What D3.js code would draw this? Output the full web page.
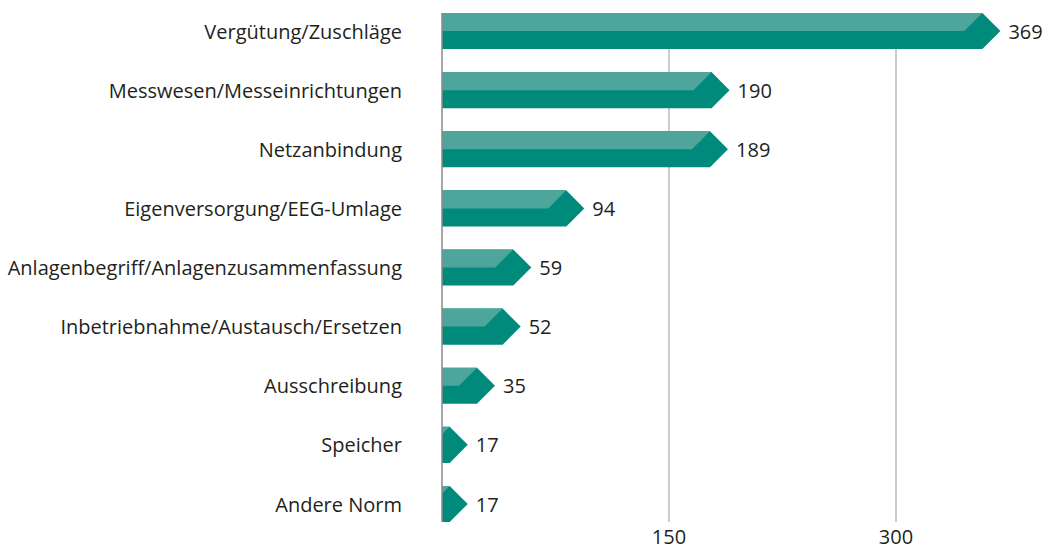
<!DOCTYPE html>
<html lang="de">
<head>
  <meta charset="UTF-8">
  <title>Anfragen nach Themen</title>
  <script src="https://d3js.org/d3.v7.min.js"></script>
  <style>
    body {
      margin: 0;
      background: #fff;
      font-family: "Open Sans", sans-serif;
    }
    svg { display: block; }
    .label, .value, .tick-label {
      fill: #231f20;
      font-size: 20px;
    }
  </style>
</head>
<body>
  <svg width="1047" height="550"></svg>
  <script>
  // Data
  const categories = [
    "Vergütung/Zuschläge",
    "Messwesen/Messeinrichtungen",
    "Netzanbindung",
    "Eigenversorgung/EEG-Umlage",
    "Anlagenbegriff/Anlagenzusammenfassung",
    "Inbetriebnahme/Austausch/Ersetzen",
    "Ausschreibung",
    "Speicher",
    "Andere Norm"
  ];
  const values = [369, 190, 189, 94, 59, 52, 35, 17, 17];
  const ticks = [150, 300];

  const width = 1047, height = 550;
  const svg = d3.select("svg");

  const x = d3.scaleLinear().domain([0, 300]).range([442, 896]);
  const y = d3.scaleBand().domain(categories).range([13, 522])
              .paddingInner(0.39).paddingOuter(0);

  const h = y.bandwidth();
  const half = h / 2;
  const x0 = x(0);

  // clip so the light bevel never spills left of the axis
  svg.append("defs").append("clipPath").attr("id", "plot")
     .append("rect").attr("x", x0).attr("y", 0).attr("width", width - x0).attr("height", height);

  // gridlines (under the bars)
  svg.selectAll("line.grid")
     .data(ticks)
     .enter().append("line")
     .attr("class", "grid")
     .attr("x1", d => x(d)).attr("x2", d => x(d))
     .attr("y1", 13).attr("y2", 522)
     .attr("stroke", "#9a9a9a")
     .attr("stroke-width", 1);

  const rows = categories.map((c, i) => ({ cat: c, value: values[i] }));

  const g = svg.append("g").attr("clip-path", "url(#plot)");

  // dark arrow body; the tip sits at the value
  g.selectAll("path.dark")
   .data(rows)
   .enter().append("path")
   .attr("class", "dark")
   .attr("fill", "#008a7c")
   .attr("d", d => {
     const top = y(d.cat), mid = top + half, bot = top + h;
     const tip = x(d.value), re = tip - half;
     return `M${x0},${top}L${re},${top}L${tip},${mid}L${re},${bot}L${x0},${bot}Z`;
   });

  // light upper bevel
  g.selectAll("path.light")
   .data(rows)
   .enter().append("path")
   .attr("class", "light")
   .attr("fill", "#4ea59b")
   .attr("d", d => {
     const top = y(d.cat), mid = top + half;
     const re = x(d.value) - half;
     return `M${x0 - h},${top}L${re},${top}L${re - half},${mid}L${x0 - h},${mid}Z`;
   });

  // value labels
  svg.selectAll("text.value")
     .data(rows)
     .enter().append("text")
     .attr("class", "value")
     .attr("x", d => x(d.value) + 8)
     .attr("y", d => y(d.cat) + half)
     .attr("dy", "0.38em")
     .text(d => d.value);

  // category labels
  svg.selectAll("text.label")
     .data(rows)
     .enter().append("text")
     .attr("class", "label")
     .attr("x", 402)
     .attr("y", d => y(d.cat) + half)
     .attr("dy", "0.38em")
     .attr("text-anchor", "end")
     .text(d => d.cat);

  // axis line on top of the bars
  svg.append("line")
     .attr("x1", x0).attr("x2", x0)
     .attr("y1", 13).attr("y2", 522)
     .attr("stroke", "#8a8a8a")
     .attr("stroke-width", 1.5);

  // tick labels
  svg.selectAll("text.tick-label")
     .data(ticks)
     .enter().append("text")
     .attr("class", "tick-label")
     .attr("x", d => x(d))
     .attr("y", 544)
     .attr("text-anchor", "middle")
     .text(d => d);
  </script>
</body>
</html>
